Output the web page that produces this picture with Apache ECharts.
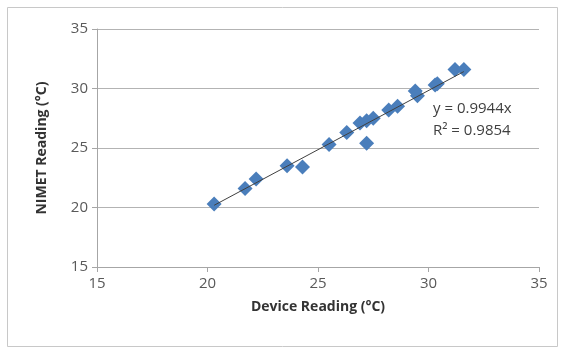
<!DOCTYPE html>
<html>
<head>
<meta charset="utf-8">
<script src="https://cdn.jsdelivr.net/npm/echarts@6/dist/echarts.min.js"></script>
<style>
  html, body { margin: 0; padding: 0; background: #fff; }
  #chart { width: 564px; height: 352px; }
</style>
</head>
<body>
<div id="chart"></div>
<script>
// Paired temperature readings (°C)
const deviceReading = [20.3, 21.7, 22.2, 23.6, 24.3, 25.5, 26.3, 26.9, 27.2, 27.5, 27.2, 28.2, 28.6, 29.4, 29.5, 30.3, 30.4, 31.2, 31.6];
const nimetReading  = [20.3, 21.6, 22.4, 23.5, 23.4, 25.3, 26.3, 27.1, 27.3, 27.5, 25.4, 28.2, 28.5, 29.8, 29.4, 30.3, 30.4, 31.6, 31.6];
const slope = 0.9944;
const rSquared = 0.9854;
const axisTicks = [15, 20, 25, 30, 35];

const points = deviceReading.map((x, i) => [x, nimetReading[i]]);
const xMin = Math.min(...deviceReading);
const xMax = Math.max(...deviceReading);
const trend = [[xMin, slope * xMin], [xMax, slope * xMax]];

const font = 'Open Sans, Liberation Sans, sans-serif';
const chart = echarts.init(document.getElementById('chart'));
chart.setOption({
  animation: false,
  backgroundColor: '#fff',
  grid: { left: 97, right: 25, top: 29, bottom: 85 },
  graphic: [
    { type: 'rect', shape: { x: 7.5, y: 7.5, width: 550, height: 339 },
      style: { fill: 'none', stroke: '#c8c8c8', lineWidth: 1 }, z: -1 },
    { type: 'text', left: 433, top: 98,
      style: { text: 'y = ' + slope + 'x\nR² = ' + rSquared, font: '15px ' + font, fill: '#404040', lineHeight: 22 } }
  ],
  xAxis: {
    type: 'value', min: axisTicks[0], max: axisTicks[axisTicks.length - 1], interval: 5,
    name: 'Device Reading (°C)', nameLocation: 'middle', nameGap: 33,
    nameTextStyle: { fontFamily: font, fontWeight: 'bold', fontSize: 14, color: '#333' },
    axisLine: { lineStyle: { color: '#a6a6a6' } },
    axisTick: { show: true, length: 5, lineStyle: { color: '#a6a6a6' } },
    axisLabel: { fontFamily: font, fontSize: 15, color: '#595959', margin: 9 },
    splitLine: { show: false }
  },
  yAxis: {
    type: 'value', min: axisTicks[0], max: axisTicks[axisTicks.length - 1], interval: 5,
    name: 'NIMET Reading (°C)', nameLocation: 'middle', nameGap: 48,
    nameTextStyle: { fontFamily: font, fontWeight: 'bold', fontSize: 14, color: '#333' },
    axisLine: { show: true, lineStyle: { color: '#a6a6a6' } },
    axisTick: { show: true, length: 5, lineStyle: { color: '#a6a6a6' } },
    axisLabel: { fontFamily: font, fontSize: 15, color: '#595959', margin: 9 },
    splitLine: { show: true, lineStyle: { color: '#b3b3b3' } }
  },
  series: [
    {
      type: 'line', data: trend, symbol: 'none', z: 3,
      lineStyle: { color: '#404040', width: 1 }
    },
    {
      type: 'scatter', data: points, symbol: 'diamond', symbolSize: 15, z: 2,
      itemStyle: { color: '#4a7ebb', opacity: 1 }
    }
  ]
});
</script>
</body>
</html>
